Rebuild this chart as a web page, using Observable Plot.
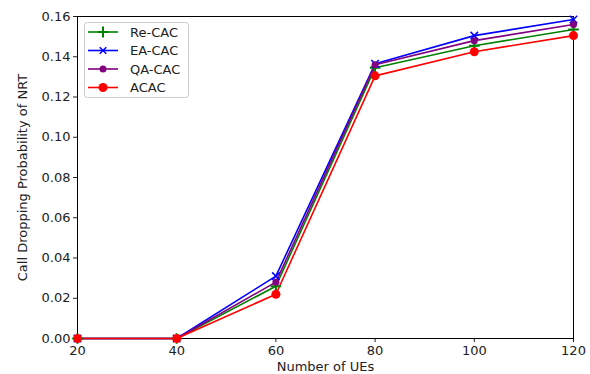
<!DOCTYPE html>
<html><head><meta charset="utf-8">
<script src="https://cdn.jsdelivr.net/npm/d3@7"></script>
<script src="https://cdn.jsdelivr.net/npm/@observablehq/plot@0.6"></script>
<style>body{margin:0;background:#fff;font-family:"DejaVu Sans",sans-serif;}</style>
</head><body><div id="chart"></div>
<script>
const ues = [20, 40, 60, 80, 100, 120];
const reCAC = [0, 0, 0.026, 0.1345, 0.1455, 0.1535];
const eaCAC = [0, 0, 0.031, 0.1365, 0.1505, 0.1585];
const qaCAC = [0, 0, 0.028, 0.136, 0.148, 0.156];
const acac  = [0, 0, 0.022, 0.1305, 0.1425, 0.1505];
const seriesNames = ["Re-CAC", "EA-CAC", "QA-CAC", "ACAC"];
const seriesColors = ["green", "blue", "purple", "red"];
const xTicks = [20, 40, 60, 80, 100, 120];
const yTicks = [0, 0.02, 0.04, 0.06, 0.08, 0.1, 0.12, 0.14, 0.16];

const allSeries = [reCAC, eaCAC, qaCAC, acac];
const rows = allSeries.flatMap((vals, i) => vals.map((v, j) => ({x: ues[j], y: v, s: seriesNames[i]})));
const bySeries = name => rows.filter(d => d.s === name);

const plot = Plot.plot({
  width: 590, height: 374,
  marginLeft: 77, marginRight: 17, marginTop: 16, marginBottom: 36,
  style: {fontFamily: "DejaVu Sans, sans-serif", fontSize: "13px", color: "#222", background: "white"},
  x: {domain: [20, 120], ticks: xTicks, tickSize: 4, tickPadding: 3, label: "Number of UEs", labelAnchor: "center", labelArrow: "none", labelOffset: 32},
  y: {domain: [0, 0.16], ticks: yTicks, tickFormat: d3.format(".2f"), tickSize: 4, tickPadding: 3, label: "Call Dropping Probability of NRT", labelAnchor: "center", labelArrow: "none", labelOffset: 60},
  color: {domain: seriesNames, range: seriesColors},
  marks: [
    Plot.frame({stroke: "black", strokeWidth: 1}),
    Plot.line(rows, {x: "x", y: "y", z: "s", stroke: "s", strokeWidth: 1.6}),
    Plot.dot(bySeries("Re-CAC"), {x: "x", y: "y", symbol: "plus", stroke: "green", strokeWidth: 2, r: 3.5}),
    Plot.dot(bySeries("EA-CAC"), {x: "x", y: "y", symbol: "times", stroke: "blue", strokeWidth: 1.5, r: 3.5}),
    Plot.dot(bySeries("QA-CAC"), {x: "x", y: "y", fill: "purple", stroke: "none", r: 3.5}),
    Plot.dot(bySeries("ACAC"), {x: "x", y: "y", fill: "red", stroke: "none", r: 4.5})
  ]
});
document.getElementById("chart").appendChild(plot);

// legend box inside the plot
const svg = d3.select(plot);
const g = svg.append("g").attr("font-family", "DejaVu Sans, sans-serif").attr("font-size", 13).attr("text-anchor", "start");
g.append("rect").attr("x", 84.5).attr("y", 22.5).attr("width", 104).attr("height", 75).attr("rx", 3)
  .attr("fill", "white").attr("fill-opacity", 0.8).attr("stroke", "#ccc");
const symbols = [d3.symbolPlus, d3.symbolTimes, null, null];
seriesNames.forEach((name, i) => {
  const y = 32 + i * 18.5;
  g.append("line").attr("x1", 88).attr("x2", 118).attr("y1", y).attr("y2", y).attr("stroke", seriesColors[i]).attr("stroke-width", 1.6);
  if (i === 0 || i === 1) {
    g.append("path").attr("d", d3.symbol(symbols[i], i === 0 ? 40 : 30)()).attr("transform", `translate(103,${y})`)
      .attr("fill", "none").attr("stroke", seriesColors[i]).attr("stroke-width", i === 0 ? 2 : 1.5);
  } else {
    g.append("circle").attr("cx", 103).attr("cy", y).attr("r", i === 3 ? 4.5 : 3.5).attr("fill", seriesColors[i]);
  }
  g.append("text").attr("x", 130).attr("y", y).attr("dy", "0.35em").attr("fill", "#222").text(name);
});
</script></body></html>
